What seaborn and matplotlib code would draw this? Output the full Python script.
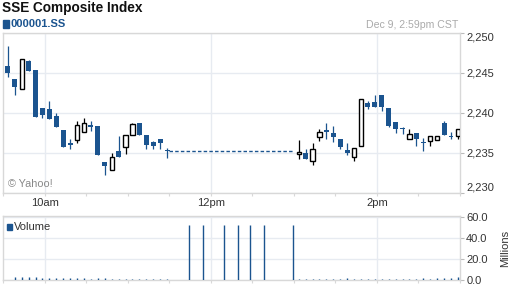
import matplotlib
matplotlib.use("Agg")
import matplotlib.pyplot as plt
from matplotlib.patches import Rectangle
from matplotlib.ticker import MultipleLocator, FixedLocator
import numpy as np
import pandas as pd
import seaborn as sns

# ---------------- data ----------------
am_times = ["09:30", "09:35", "09:40", "09:45", "09:50", "09:55", "10:00", "10:05",
            "10:10", "10:15", "10:20", "10:25", "10:30", "10:35", "10:40", "10:45",
            "10:50", "10:55", "11:00", "11:05", "11:10", "11:15", "11:20", "11:25"]
am_open = [2245.9, 2244.25, 2243.0, 2246.5, 2245.4, 2240.6, 2240.5, 2239.6,
           2237.9, 2236.3, 2236.6, 2237.6, 2238.5, 2238.4, 2233.9, 2232.9,
           2235.25, 2235.7, 2237.3, 2238.75, 2237.25, 2236.4, 2236.75, 2235.35]
am_high = [2248.4, 2244.25, 2246.7, 2246.6, 2245.4, 2240.6, 2241.5, 2240.0,
           2237.9, 2236.7, 2239.0, 2239.4, 2239.0, 2238.4, 2233.9, 2235.0,
           2237.1, 2237.2, 2238.8, 2238.75, 2237.25, 2236.5, 2236.75, 2235.6]
am_low = [2244.5, 2242.2, 2243.0, 2245.3, 2239.5, 2239.4, 2239.2, 2238.2,
          2235.8, 2235.5, 2236.3, 2237.6, 2237.8, 2234.75, 2232.25, 2232.9,
          2234.5, 2234.9, 2237.3, 2237.25, 2235.5, 2235.5, 2235.5, 2234.4]
am_close = [2245.0, 2243.3, 2246.7, 2245.3, 2239.5, 2239.7, 2239.2, 2238.2,
            2235.8, 2236.0, 2238.5, 2238.7, 2238.2, 2234.75, 2233.4, 2234.5,
            2234.5, 2237.2, 2238.6, 2237.25, 2236.0, 2235.9, 2236.2, 2235.3]

pm_times = ["13:00", "13:05", "13:10", "13:15", "13:20", "13:25", "13:30", "13:35",
            "13:40", "13:45", "13:50", "13:55", "14:00", "14:05", "14:10", "14:15",
            "14:20", "14:25", "14:30", "14:35", "14:40", "14:45", "14:50", "14:55"]
pm_open = [2234.9, 2235.0, 2234.0, 2237.0, 2237.9, 2237.5, 2236.75, 2235.4,
           2234.5, 2235.9, 2241.3, 2241.4, 2242.25, 2240.6, 2238.9, 2238.05,
           2236.8, 2237.5, 2236.4, 2236.5, 2236.6, 2238.7, 2237.05, 2237.1]
pm_high = [2236.6, 2235.5, 2236.25, 2238.0, 2238.7, 2238.4, 2236.75, 2236.3,
           2235.6, 2241.75, 2241.5, 2242.3, 2242.25, 2240.6, 2238.9, 2238.25,
           2238.0, 2237.5, 2236.9, 2237.1, 2237.1, 2239.0, 2237.6, 2238.0]
pm_low = [2234.3, 2234.3, 2233.5, 2236.5, 2236.75, 2236.4, 2235.5, 2234.8,
          2234.0, 2235.9, 2240.5, 2240.7, 2240.3, 2238.25, 2237.5, 2237.4,
          2236.8, 2235.9, 2235.3, 2235.9, 2236.6, 2237.3, 2236.7, 2236.7]
pm_close = [2235.1, 2234.3, 2235.5, 2237.6, 2237.6, 2237.0, 2235.7, 2235.0,
            2235.6, 2241.75, 2240.8, 2240.7, 2240.8, 2238.4, 2238.0, 2237.95,
            2237.4, 2236.7, 2236.25, 2237.1, 2237.1, 2237.3, 2237.0, 2238.0]

lunch_times = ["11:30", "13:00"]
lunch_price = [2235.25, 2235.25]

vol_times = ["09:35", "09:40", "09:45", "09:50", "09:55", "10:00", "10:05", "10:10",
             "10:15", "10:20", "10:25", "10:30", "10:35", "10:40", "10:45", "10:50",
             "10:55", "11:00", "11:05", "11:10", "11:15", "11:20", "11:25",
             "11:41", "11:51", "12:06", "12:16", "12:25", "12:35", "12:56",
             "13:00", "13:05", "13:10", "13:15", "13:20", "13:25", "13:30", "13:35",
             "13:40", "13:45", "13:50", "13:55", "14:00", "14:05", "14:10", "14:15",
             "14:20", "14:25", "14:30", "14:35", "14:40", "14:45", "14:50", "14:55"]
vol_millions = [2.8, 2.8, 2.8, 2.8, 2.0, 2.0, 2.0, 2.0,
                2.0, 2.0, 2.0, 1.3, 2.0, 2.0, 1.3, 1.3,
                1.3, 1.3, 1.3, 1.3, 1.3, 1.3, 1.3,
                52.0, 52.0, 52.0, 52.0, 52.0, 52.0, 52.0,
                1.3, 1.3, 1.3, 1.3, 1.3, 1.3, 1.3, 2.0,
                1.3, 1.3, 1.3, 1.3, 1.3, 1.3, 1.3, 1.3,
                1.3, 1.3, 2.0, 1.3, 2.0, 2.0, 2.0, 2.8]

price_ticks = [2230, 2235, 2240, 2245, 2250]
vol_ticks = [0, 20, 40, 60]
hour_labels = ["10am", "12pm", "2pm"]
hour_times = ["10:00", "12:00", "14:00"]

# ---------------- style ----------------
sns.set_style("white")
plt.rcParams["font.family"] = ["Liberation Sans", "DejaVu Sans"]

BLUE = "#1b548f"
GRID = "#e7ebf1"
SPINE = "#d8d8d8"
TEXT = "#333333"
OFFSET = 3.5   # display offset of bar centre within its 5-minute slot


def to_min(t):
    h, m = t.split(":")
    return (int(h) - 9) * 60 + int(m) - 30


W, H = 512, 288
fig = plt.figure(figsize=(W / 100, H / 100), dpi=100)
fig.patch.set_facecolor("white")


def rect(l, t, r, b):
    return [l / W, 1 - b / H, (r - l) / W, (b - t) / H]


ax = fig.add_axes(rect(3, 33, 460, 193))
ax2 = fig.add_axes(rect(3, 216, 460, 280))

# ---------------- candles ----------------
df = pd.DataFrame({
    "t": [to_min(t) + OFFSET for t in am_times + pm_times],
    "o": am_open + pm_open, "h": am_high + pm_high,
    "l": am_low + pm_low, "c": am_close + pm_close,
})
up = df["c"] > df["o"]
for is_up, sub in df.groupby(up):
    col = "black" if is_up else BLUE
    ax.vlines(sub["t"], sub["l"], sub["h"], color=col, lw=0.9, zorder=3)
    bottom = np.minimum(sub["o"], sub["c"])
    height = np.maximum(np.abs(sub["c"] - sub["o"]), 0.13)
    if is_up:
        ax.bar(sub["t"], height, bottom=bottom, width=3.0, facecolor="white",
               edgecolor="black", linewidth=1.0, zorder=4)
    else:
        ax.bar(sub["t"], height, bottom=bottom, width=3.6, color=BLUE,
               linewidth=0, zorder=4)

lunch = pd.DataFrame({"t": [to_min(t) for t in lunch_times], "p": lunch_price})
sns.lineplot(data=lunch, x="t", y="p", ax=ax, color=BLUE, lw=1.0,
             dashes=False, linestyle=(0, (2.5, 1.6)), zorder=2)

# ---------------- volume ----------------
vt = [to_min(t) + OFFSET for t in vol_times]
ax2.vlines(vt, 0, vol_millions, color=BLUE, lw=1.0, zorder=3)

# ---------------- axes styling ----------------
hour_x = [to_min(t) for t in hour_times]
for a in (ax, ax2):
    a.set_xlim(0, 330)
    a.set_xlabel("")
    a.set_ylabel("")
    for s in a.spines.values():
        s.set_visible(True)
        s.set_color(SPINE)
        s.set_linewidth(1.0)
    a.xaxis.set_major_locator(FixedLocator(hour_x))
    a.xaxis.set_minor_locator(MultipleLocator(30))
    a.tick_params(axis="x", which="both", bottom=True, length=2.2, width=0.8,
                  color=SPINE, direction="out")
    a.grid(True, axis="both", which="major", color=GRID, lw=1.0, zorder=0)
    a.set_axisbelow(True)
    a.yaxis.tick_right()
    a.tick_params(axis="y", which="major", right=True, left=False, length=3,
                  width=0.8, color="#bbbbbb", pad=1.5, labelsize=8,
                  labelcolor=TEXT)

ax.set_ylim(2230, 2250)
ax.set_yticks(price_ticks)
ax.set_yticklabels([f"{v:,}" for v in price_ticks])
ax.set_xticklabels(hour_labels)
ax.tick_params(axis="x", which="major", labelsize=8, labelcolor=TEXT, pad=1.5)
ylabs = ax.get_yticklabels()
ylabs[0].set_va("bottom")
ylabs[-1].set_va("top")

ax2.set_ylim(0, 61)
ax2.set_yticks(vol_ticks)
ax2.set_yticklabels([f"{v:.1f}" for v in vol_ticks])
ax2.set_xticklabels([])

# ---------------- texts ----------------
fig.text(2 / W, 1 - 8 / H, "SSE Composite Index", fontsize=9.8, weight="bold",
         color="#111111", va="center", ha="left")
fig.patches.append(Rectangle((3 / W, 1 - 27.5 / H), 6 / W, 7 / H,
                             transform=fig.transFigure, color=BLUE))
fig.text(10.5 / W, 1 - 24.3 / H, "000001.SS", fontsize=8, weight="bold",
         color=BLUE, va="center", ha="left")
fig.text(458 / W, 1 - 24.5 / H, "Dec 9, 2:59pm CST", fontsize=7.6,
         color="#aaaaaa", va="center", ha="right")
ax.text(5 / 457, 9 / 160, "\u00a9 Yahoo!", transform=ax.transAxes, fontsize=7.8,
        color="#888888", va="center", ha="left")
fig.patches.append(Rectangle((7 / W, 1 - 229.5 / H), 5 / W, 5.5 / H,
                             transform=fig.transFigure, color=BLUE))
fig.text(13.5 / W, 1 - 227 / H, "Volume", fontsize=8, color=TEXT,
         va="center", ha="left")
fig.text(505 / W, 1 - 248 / H, "Millions", fontsize=8, color=TEXT,
         rotation=90, va="center", ha="center")

fig.savefig("out.png", dpi=100, facecolor="white")
